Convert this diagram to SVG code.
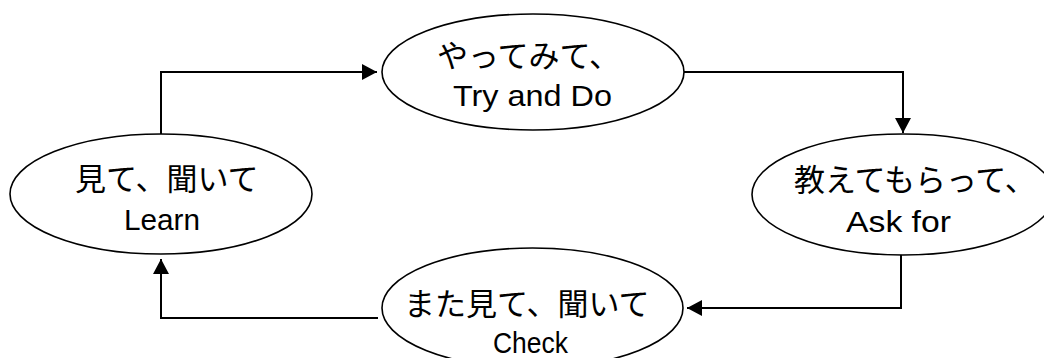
<svg xmlns="http://www.w3.org/2000/svg" width="1044" height="358" viewBox="0 0 1044 358">
<style>
.node ellipse{fill:#fff;stroke:#000;stroke-width:1.6}
.jp{font-family:"Noto Sans CJK JP","Noto Sans CJK SC",sans-serif;font-size:31px;fill:#000}
.en{font-family:"Liberation Sans",Arial,sans-serif;font-size:30px;fill:#000;text-anchor:middle}
.conn path{fill:none;stroke:#000;stroke-width:2;marker-end:url(#arr)}
</style>
<defs>
<marker id="arr" markerUnits="userSpaceOnUse" markerWidth="16" markerHeight="16" refX="15" refY="8" orient="auto">
<path d="M0,0 L15,8 L0,16 z" fill="#000"/>
</marker>
</defs>
<g class="conn">
<path d="M161,134 V72 H377"/>
<path d="M684,72 H903 V133"/>
<path d="M901,255 V308 H687"/>
<path d="M378,318 H161 V259"/>
</g>
<g id="try" class="node">
<ellipse cx="533" cy="72" rx="151" ry="58"/>
<text class="jp" x="437" y="67">やってみて、</text>
<text class="en" x="532.5" y="106" textLength="159" lengthAdjust="spacingAndGlyphs">Try and Do</text>
</g>
<g id="learn" class="node">
<ellipse cx="161" cy="194" rx="151" ry="60"/>
<text class="jp" x="75" y="189.5">見て、聞いて</text>
<text class="en" x="162" y="230" textLength="76" lengthAdjust="spacingAndGlyphs">Learn</text>
</g>
<g id="ask" class="node">
<ellipse cx="903" cy="194.5" rx="151" ry="60.5"/>
<text class="jp" x="794" y="190.5">教えてもらって、</text>
<text class="en" x="898.5" y="232" textLength="105" lengthAdjust="spacingAndGlyphs">Ask for</text>
</g>
<g id="check" class="node">
<ellipse cx="532.5" cy="308" rx="150.5" ry="60"/>
<text class="jp" x="404" y="315">また見て、聞いて</text>
<text class="en" x="530.5" y="353" textLength="75" lengthAdjust="spacingAndGlyphs">Check</text>
</g>
</svg>
